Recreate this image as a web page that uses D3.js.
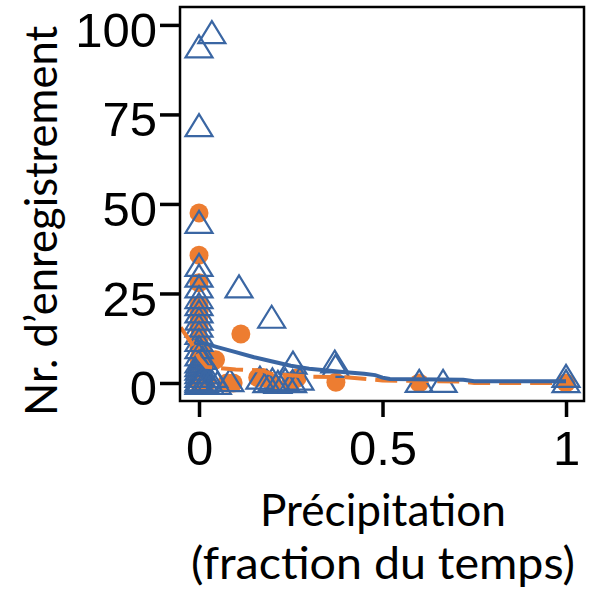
<!DOCTYPE html>
<html><head><meta charset="utf-8">
<script src="https://cdn.jsdelivr.net/npm/d3@7"></script>
<style>html,body{margin:0;padding:0;background:#fff}</style>
</head><body>
<svg id="c" width="595" height="595"></svg>
<script>
// ---- data ----
const yTicks = [0, 25, 50, 75, 100];
const xTicks = [0, 0.5, 1];
const xTickLabels = ["0", "0.5", "1"];

// blue triangles: [precipitation fraction, count]
const blueX = [0,0,0,0,0,0,0,0,0,0,0,0,0,0,0,0,0,0,0,0,0,0,0,
  0.01,0.02,0.025,0.03,0.015,0.04,0.05,
  0.035,0.109,0.198,0.084,0.166,0.185,0.2,0.215,0.235,0.255,0.275,0.256,
  0.37,0.372,0.6,0.665,1.0,1.0];
const blueY = [94,72,45,33,30,27,24,22,20,18,16,14,12,10,8,6,5,4,3,2,1,0.5,0,
  7,3,1,0,0.5,2,0,
  98,27,18.5,0.8,1.5,0.5,1,0.3,1,0.5,1.2,5.7,
  6,4.8,0.6,0.6,2,0.5];

// orange circles
const orangeX = [0,0,0,0,0,0,0,0,0,0,0,0,0,0,
  0.01,0.045,0.114,0.02,0.076,0.093,0.16,0.175,0.2,0.25,0.267,0.373,0.6,1.0];
const orangeY = [47.5,35.7,28,21.8,20,18.5,15.6,12,10,7,5,3,1,0,
  8.4,6.5,13.7,0,0,0,1.5,1.5,0,0,1.4,0.2,0,0];

// fitted lines
const blueFitX = [-0.01,0,0.05,0.1,0.15,0.2,0.25,0.3,0.35,0.4,0.45,0.48,0.5,0.52,0.72,0.75,1.0];
const blueFitY = [12.5,11.5,10,8.6,7.2,6.0,4.8,4.0,3.5,3.0,2.6,2.2,1.5,1.1,0.9,0.5,0.5];
const orangeFitX = [-0.05,-0.02,0,0.02,0.1,0.17,0.2,0.3,0.4,0.5,0.72,0.75,1.0];
const orangeFitY = [15.5,11,7,4.5,3.8,3.5,2.5,1.8,1.6,0.7,0.4,0,0];

const yTitle = "Nr. d\u2019enregistrement";
const xTitle1 = "Pr\u00e9cipitation";
const xTitle2 = "(fraction du temps)";

// ---- drawing ----
const BLUE = "#3A66A3", ORANGE = "#ED7D31";
const svg = d3.select("#c");
const L = 180, R = 584, T = 7, B = 401;
const x = d3.scaleLinear().domain([-0.0518, 1.049]).range([L, R]);
const y = d3.scaleLinear().domain([-5.03, 105]).range([B, T]);

svg.append("clipPath").attr("id","pc").append("rect")
  .attr("x", L).attr("y", T).attr("width", R-L).attr("height", B-T);
const plot = svg.append("g").attr("clip-path","url(#pc)");

// circles
plot.selectAll("circle.o").data(d3.range(orangeX.length)).join("circle")
  .attr("cx", i => x(orangeX[i])).attr("cy", i => y(orangeY[i]))
  .attr("r", 9.5).attr("fill", ORANGE);

// triangles
const tri = "M0,-11L13.5,11L-13.5,11Z";
plot.selectAll("path.t").data(d3.range(blueX.length)).join("path")
  .attr("transform", i => `translate(${x(blueX[i])},${y(blueY[i])})`)
  .attr("d", tri).attr("fill","none").attr("stroke", BLUE).attr("stroke-width", 2.2)
  .attr("stroke-linejoin","miter");

const line = d3.line().x(d => x(d[0])).y(d => y(d[1]));
plot.append("path").datum(orangeFitX.map((v,i)=>[v, orangeFitY[i]]))
  .attr("d", line).attr("fill","none").attr("stroke", ORANGE)
  .attr("stroke-width", 4).attr("stroke-dasharray","22,9");
plot.append("path").datum(blueFitX.map((v,i)=>[v, blueFitY[i]]))
  .attr("d", line).attr("fill","none").attr("stroke", BLUE).attr("stroke-width", 4);

// frame
svg.append("rect").attr("x", L).attr("y", T).attr("width", R-L).attr("height", B-T)
  .attr("fill","none").attr("stroke","#000").attr("stroke-width", 2.5);

// axes
const yAxis = d3.axisLeft(y).tickValues(yTicks).tickSize(20).tickPadding(3);
const ya = svg.append("g").attr("transform", `translate(${L},0)`).call(yAxis);
ya.select(".domain").remove();
ya.selectAll(".tick line").attr("stroke","#000").attr("stroke-width",3.5);
ya.selectAll(".tick text").attr("font-family","'Liberation Sans', Arial, sans-serif")
  .attr("font-size", 49).attr("fill","#000").attr("dy","0.44em");

const xAxis = d3.axisBottom(x).tickValues(xTicks).tickFormat((d,i)=>xTickLabels[i]).tickSize(16).tickPadding(13);
const xa = svg.append("g").attr("transform", `translate(0,${B})`).call(xAxis);
xa.select(".domain").remove();
xa.selectAll(".tick line").attr("stroke","#000").attr("stroke-width",3.5);
xa.selectAll(".tick text").attr("font-family","'Liberation Sans', Arial, sans-serif")
  .attr("font-size", 49).attr("fill","#000");

// titles
const tf = "Lato, 'Open Sans', sans-serif";
svg.append("text").attr("transform","translate(57,221) rotate(-90)")
  .attr("text-anchor","middle").attr("font-family", tf).attr("font-size", 44)
  .attr("textLength", 390).attr("lengthAdjust","spacingAndGlyphs")
  .attr("fill","#000").text(yTitle);
svg.append("text").attr("x", 383).attr("y", 526).attr("text-anchor","middle")
  .attr("font-family", tf).attr("font-size", 44)
  .attr("textLength", 246).attr("lengthAdjust","spacingAndGlyphs")
  .attr("fill","#000").text(xTitle1);
svg.append("text").attr("x", 383).attr("y", 579).attr("text-anchor","middle")
  .attr("font-family", tf).attr("font-size", 44)
  .attr("textLength", 384).attr("lengthAdjust","spacingAndGlyphs")
  .attr("fill","#000").text(xTitle2);
</script>
</body></html>
